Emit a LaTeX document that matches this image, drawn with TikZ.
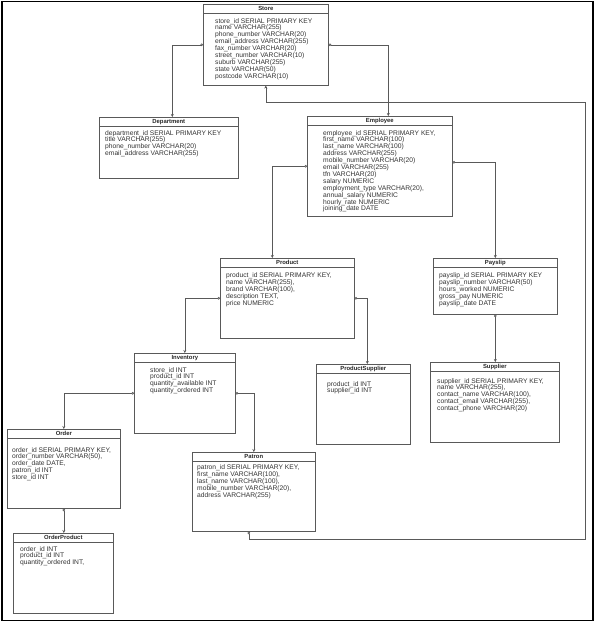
\documentclass[tikz,border=0pt]{standalone}
\usepackage{fontspec}
\setmainfont{Liberation Sans}
\usetikzlibrary{calc,arrows.meta}
\tikzstyle{table} = [rectangle, draw=black!65, line width=0.6pt, anchor=north west, inner sep=0pt]
\tikzstyle{title} = [anchor=north, inner sep=0pt, minimum height=9pt, font=\fontsize{5.9}{6}\selectfont\bfseries, text=black!85]
\tikzstyle{fields} = [anchor=north west, inner sep=0pt, align=left, font=\fontsize{6.7}{6.9}\selectfont, text=black!80]
\tikzstyle{rowline} = [draw=black!65, line width=0.6pt]
\tikzstyle{link} = [draw=black!65, line width=0.6pt, {Circle[open,length=2.6pt]}-{Stealth[length=3pt,width=3pt]}]
\tikzstyle{linkback} = [draw=black!65, line width=0.6pt, {Stealth[length=3pt,width=3pt]}-{Circle[open,length=2.6pt]}]

\begin{document}
\begin{tikzpicture}[x=1pt,y=-1pt]
\useasboundingbox (0,0) rectangle (595,622);
\draw[line width=1.6pt] (2,1.5) rectangle (593,620.5);

\node (store) [table, minimum width=125pt, minimum height=81pt] at (203,4) {};
\node (storet) [title] at (store.north) {Store};
\draw [rowline] (storet.south -| store.west) -- (storet.south -| store.east);
\node (storef) [fields] at ($(store.north west)+(12,14)$) {store\_id SERIAL PRIMARY KEY\\name VARCHAR(255)\\phone\_number VARCHAR(20)\\email\_address VARCHAR(255)\\fax\_number VARCHAR(20)\\street\_number VARCHAR(10)\\suburb VARCHAR(255)\\state VARCHAR(50)\\postcode VARCHAR(10)};

\node (dept) [table, minimum width=139pt, minimum height=61pt] at (99,117) {};
\node (deptt) [title] at (dept.north) {Department};
\draw [rowline] (deptt.south -| dept.west) -- (deptt.south -| dept.east);
\node (deptf) [fields] at ($(dept.north west)+(6,13)$) {department\_id SERIAL PRIMARY KEY\\title VARCHAR(255)\\phone\_number VARCHAR(20)\\email\_address VARCHAR(255)};

\node (emp) [table, minimum width=145pt, minimum height=100pt] at (307,116) {};
\node (empt) [title] at (emp.north) {Employee};
\draw [rowline] (empt.south -| emp.west) -- (empt.south -| emp.east);
\node (empf) [fields] at ($(emp.north west)+(16,14)$) {employee\_id SERIAL PRIMARY KEY,\\first\_name VARCHAR(100)\\last\_name VARCHAR(100)\\address VARCHAR(255)\\mobile\_number VARCHAR(20)\\email VARCHAR(255)\\tfn VARCHAR(20)\\salary NUMERIC\\employment\_type VARCHAR(20),\\annual\_salary NUMERIC\\hourly\_rate NUMERIC\\joining\_date DATE};

\node (prod) [table, minimum width=134pt, minimum height=80pt] at (220,258) {};
\node (prodt) [title] at (prod.north) {Product};
\draw [rowline] (prodt.south -| prod.west) -- (prodt.south -| prod.east);
\node (prodf) [fields] at ($(prod.north west)+(6,14.5)$) {product\_id SERIAL PRIMARY KEY,\\name VARCHAR(255),\\brand VARCHAR(100),\\description TEXT,\\price NUMERIC};

\node (payslip) [table, minimum width=124pt, minimum height=56pt] at (433,258) {};
\node (payslipt) [title] at (payslip.north) {Payslip};
\draw [rowline] (payslipt.south -| payslip.west) -- (payslipt.south -| payslip.east);
\node (payslipf) [fields] at ($(payslip.north west)+(6,14.5)$) {payslip\_id SERIAL PRIMARY KEY\\payslip\_number VARCHAR(50)\\hours\_worked NUMERIC\\gross\_pay NUMERIC\\payslip\_date DATE};

\node (inv) [table, minimum width=101pt, minimum height=80pt] at (134,353) {};
\node (invt) [title] at (inv.north) {Inventory};
\draw [rowline] (invt.south -| inv.west) -- (invt.south -| inv.east);
\node (invf) [fields] at ($(inv.north west)+(16,14)$) {store\_id INT\\product\_id INT\\quantity\_available INT\\quantity\_ordered INT};

\node (ps) [table, minimum width=94pt, minimum height=80pt] at (316,364) {};
\node (pst) [title] at (ps.north) {ProductSupplier};
\draw [rowline] (pst.south -| ps.west) -- (pst.south -| ps.east);
\node (psf) [fields] at ($(ps.north west)+(11,17)$) {product\_id INT\\supplier\_id INT};

\node (supp) [table, minimum width=129pt, minimum height=80pt] at (430,362) {};
\node (suppt) [title] at (supp.north) {Supplier};
\draw [rowline] (suppt.south -| supp.west) -- (suppt.south -| supp.east);
\node (suppf) [fields] at ($(supp.north west)+(7,16)$) {supplier\_id SERIAL PRIMARY KEY,\\name VARCHAR(255),\\contact\_name VARCHAR(100),\\contact\_email VARCHAR(255),\\contact\_phone VARCHAR(20)};

\node (order) [table, minimum width=113pt, minimum height=79pt] at (7,429) {};
\node (ordert) [title] at (order.north) {Order};
\draw [rowline] (ordert.south -| order.west) -- (ordert.south -| order.east);
\node (orderf) [fields] at ($(order.north west)+(5,18)$) {order\_id SERIAL PRIMARY KEY,\\order\_number VARCHAR(50),\\order\_date DATE,\\patron\_id INT\\store\_id INT};

\node (patron) [table, minimum width=123pt, minimum height=79pt] at (192,452) {};
\node (patront) [title] at (patron.north) {Patron};
\draw [rowline] (patront.south -| patron.west) -- (patront.south -| patron.east);
\node (patronf) [fields] at ($(patron.north west)+(5,12.5)$) {patron\_id SERIAL PRIMARY KEY,\\first\_name VARCHAR(100),\\last\_name VARCHAR(100),\\mobile\_number VARCHAR(20),\\address VARCHAR(255)};

\node (op) [table, minimum width=100pt, minimum height=80pt] at (13,533) {};
\node (opt) [title] at (op.north) {OrderProduct};
\draw [rowline] (opt.south -| op.west) -- (opt.south -| op.east);
\node (opf) [fields] at ($(op.north west)+(7,13)$) {order\_id INT\\product\_id INT\\quantity\_ordered INT,};

\coordinate (corner) at (585,539);
\draw [link] (store.west) -| ([xshift=3.5pt]dept.north);
\draw [link] (store.east) -| ([xshift=8.5pt]emp.north);
\draw [link] (emp.west) -| ([xshift=-15pt]prod.north);
\draw [link] ([yshift=4pt]emp.east) -| (payslip.north);
\draw [link] (payslip.south) -- (payslip.south |- supp.north);
\draw [link] (prod.west) -| (inv.north);
\draw [link] (prod.east) -| ([xshift=4pt]ps.north);
\draw [link] (inv.west) -| (order.north);
\draw [link] (inv.east) -| (patron.north);
\draw [link] (order.south) -- (order.south |- op.north);
\draw [linkback] (store.south) -- ++(0,17) -| (corner) -| ([xshift=-5pt]patron.south);

\end{tikzpicture}
\end{document}
